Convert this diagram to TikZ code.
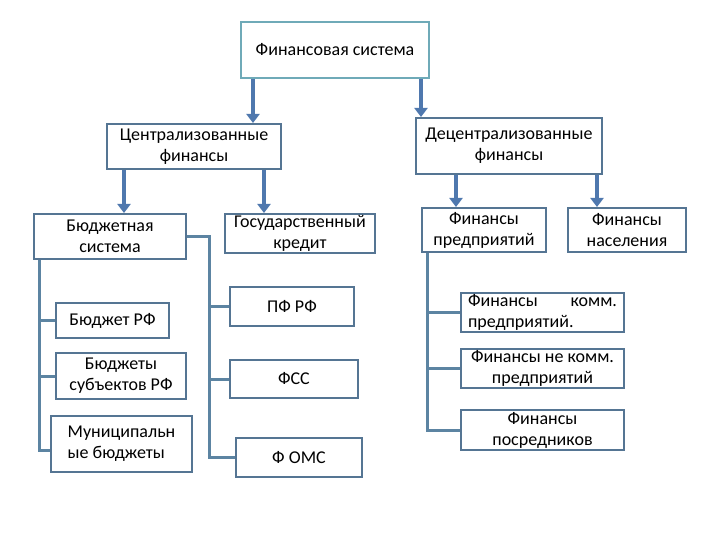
\documentclass[tikz,border=0pt]{standalone}
\usepackage{fontspec}
\setmainfont{Carlito}
\usetikzlibrary{arrows.meta}
\definecolor{boxline}{HTML}{557593}
\definecolor{topline}{HTML}{6FAAB8}
\definecolor{arrowblue}{HTML}{4F78AE}
\definecolor{treeline}{HTML}{5C84A2}
\tikzset{
  fbox/.style={draw=boxline, line width=2pt, fill=white, align=center, inner sep=1pt,
    font=\fontsize{18}{21}\selectfont},
  arr/.style={draw=arrowblue, line width=4pt, -{Triangle[width=13pt,length=9pt]}},
  link/.style={draw=treeline, line width=3pt}
}
\begin{document}
\begin{tikzpicture}[x=1pt, y=-1pt]
\useasboundingbox (0,0) rectangle (720,540);
\node[fbox, draw=topline, minimum width=188pt, minimum height=56pt] (fin) at (335,50) {Финансовая система};
\node[fbox, minimum width=174pt, minimum height=45pt] (centr) at (194,146.5) {Централизованные\\финансы};
\node[fbox, minimum width=186pt, minimum height=56pt] (decentr) at (509,146) {Децентрализованные\\финансы};
\node[fbox, minimum width=152pt, minimum height=45pt] (budsys) at (110,236.5) {Бюджетная\\система};
\node[fbox, minimum width=150pt, minimum height=39pt] (goskred) at (300,233.5) {Государственный\\кредит};
\node[fbox, minimum width=124pt, minimum height=44pt] (predpr) at (484,230) {Финансы\\предприятий};
\node[fbox, minimum width=118pt, minimum height=44pt] (naselen) at (627,230) {Финансы\\населения};
\node[fbox, minimum width=113pt, minimum height=35pt] (budrf) at (112.5,320.5) {Бюджет РФ};
\node[fbox, minimum width=130pt, minimum height=46pt] (subj) at (121,376) {Бюджеты\\субъектов РФ};
\node[fbox, minimum width=141pt, minimum height=56pt, align=left] (munic) at (121.5,444) {Муниципальн\\ые бюджеты};
\node[fbox, minimum width=124pt, minimum height=39pt] (pfrf) at (292,306.5) {ПФ РФ};
\node[fbox, minimum width=128pt, minimum height=38pt] (fss) at (294,379) {ФСС};
\node[fbox, minimum width=126pt, minimum height=39pt] (foms) at (299,457.5) {Ф ОМС};
\node[fbox, minimum width=163pt, minimum height=39pt, align=left] (komm) at (542.5,312.5) {\makebox[149pt][s]{Финансы комм.}\\предприятий.};
\node[fbox, minimum width=163pt, minimum height=39pt] (nekomm) at (542.5,368.5) {Финансы не комм.\\предприятий};
\node[fbox, minimum width=163pt, minimum height=40pt] (posr) at (542.5,430) {Финансы\\посредников};
\coordinate (a1) at (253,0);
\coordinate (a2) at (421,0);
\coordinate (a3) at (124,0);
\coordinate (a4) at (264,0);
\coordinate (a5) at (456,0);
\coordinate (a6) at (597,0);
\coordinate (l1) at (39,0);
\coordinate (l2) at (209,0);
\coordinate (l3) at (427,0);
\draw[arr] (fin.south -| a1) -- (centr.north -| a1);
\draw[arr] (fin.south -| a2) -- (decentr.north -| a2);
\draw[arr] (centr.south -| a3) -- (budsys.north -| a3);
\draw[arr] (centr.south -| a4) -- (goskred.north -| a4);
\draw[arr] (decentr.south -| a5) -- (predpr.north -| a5);
\draw[arr] (decentr.south -| a6) -- (naselen.north -| a6);
\draw[link] (budsys.south -| l1) |- (budrf.west);
\draw[link] (budsys.south -| l1) |- (subj.west);
\draw[link] (budsys.south -| l1) |- ([yshift=-6pt]munic.west);
\draw[link] (budsys.east) -| (l2 |- foms.west) -- (foms.west);
\draw[link] (l2 |- pfrf.west) -- (pfrf.west);
\draw[link] (l2 |- fss.west) -- (fss.west);
\draw[link] (predpr.south -| l3) |- (komm.west);
\draw[link] (predpr.south -| l3) |- (nekomm.west);
\draw[link] (predpr.south -| l3) |- (posr.west);
\end{tikzpicture}
\end{document}
